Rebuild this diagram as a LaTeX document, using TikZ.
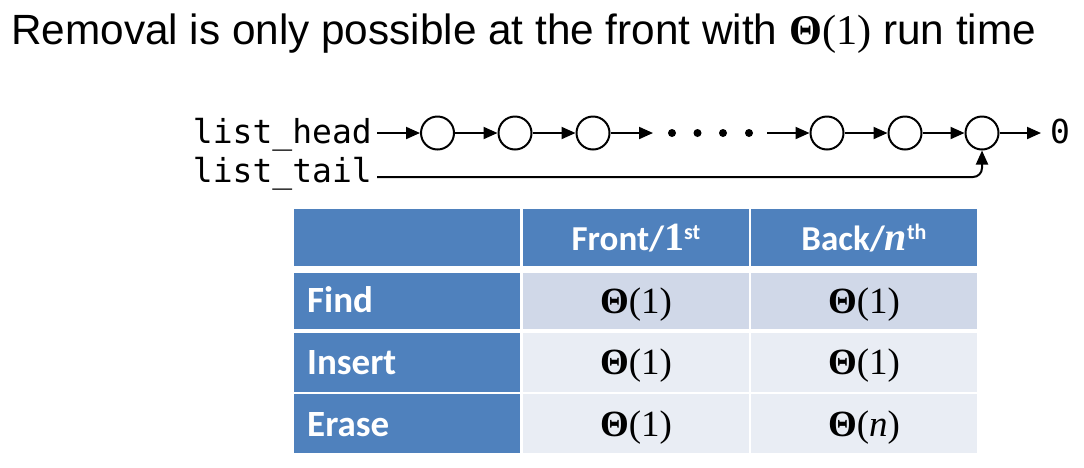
\documentclass[tikz,border=0pt]{standalone}
\usepackage{fontspec}
\setmainfont{Liberation Sans}
\newfontfamily\serifF{Liberation Serif}
\newfontfamily\calibF{Carlito}
\newfontfamily\monoF{DejaVu Sans Mono}
\usetikzlibrary{arrows.meta}
\definecolor{hblue}{HTML}{4F81BD}
\definecolor{rowA}{HTML}{D0D8E8}
\definecolor{rowB}{HTML}{E9EDF4}
\newcommand{\supx}[1]{\raisebox{11pt}{\fontsize{22}{22}\selectfont #1}}
\newcommand{\Thx}{{\bfseries Θ}}
\begin{document}
\begin{tikzpicture}[x=1pt,y=-1pt,
  lnk/.style={line width=2pt,-{Triangle[length=14pt,width=12pt]}},
  lnode/.style={circle,draw,line width=2pt,minimum size=33pt,inner sep=0pt},
  dotc/.style={circle,fill,minimum size=8pt,inner sep=0pt},
  monotext/.style={inner sep=0pt,font=\monoF\fontsize{33}{36}\selectfont},
  cell/.style={draw=none,minimum width=226pt,inner sep=0pt},
  hdrcell/.style={cell,fill=hblue,minimum height=57pt},
  labcell/.style={cell,fill=hblue},
  datA/.style={cell,fill=rowA},
  datB/.style={cell,fill=rowB},
  hdrtext/.style={inner sep=0pt,anchor=base,text=white,font=\calibF\bfseries\fontsize{35}{38}\selectfont},
  labtext/.style={inner sep=0pt,anchor=base west,text=white,font=\calibF\bfseries\fontsize{37}{40}\selectfont},
  dattext/.style={inner sep=0pt,anchor=base,font=\serifF\fontsize{37}{40}\selectfont},
]
\fill[white] (0,0) rectangle (1084,467);
\useasboundingbox (0,0) rectangle (1084,467);

% title
\node[inner sep=0pt,anchor=base west,font=\fontsize{42.3}{48}\selectfont] (title) at (11,44)
  {Removal is only possible at the front with {\serifF\Thx(1)} run time};

% list
\node[monotext,anchor=base east] (lhead) at (372,143) {list\_head};
\node[monotext,anchor=base east] (ltail) at (372,182) {list\_tail};
\node[lnode] (c1) at (437.5,133) {};
\node[lnode] (c2) at (515,133) {};
\node[lnode] (c3) at (593,133) {};
\node[dotc] (d1) at (672,133) {};
\node[dotc] (d2) at (697.5,133) {};
\node[dotc] (d3) at (723,133) {};
\node[dotc] (d4) at (749,133) {};
\node[lnode] (c4) at (827,133) {};
\node[lnode] (c5) at (905,133) {};
\node[lnode] (c6) at (982,133) {};
\node[monotext,anchor=base] (z) at (1060,143) {0};
\coordinate (hs) at (377,133);
\coordinate (dA) at (653,133);
\coordinate (dB) at (767,133);
\coordinate (zt) at (1041,133);
\coordinate (ts) at (377,177);

\draw[lnk] (hs) -- (c1);
\draw[lnk] (c1) -- (c2);
\draw[lnk] (c2) -- (c3);
\draw[lnk] (c3) -- (dA);
\draw[lnk] (dB) -- (c4);
\draw[lnk] (c4) -- (c5);
\draw[lnk] (c5) -- (c6);
\draw[lnk] (c6) -- (zt);
\draw[lnk,rounded corners=9pt] (ts) -| (c6.south);

% table
\node[hdrcell] (h1) at (407,237.5) {};
\node[hdrcell] (h2) at (636,237.5) {};
\node[hdrcell] (h3) at (864,237.5) {};
\node[labcell,minimum height=56.5pt] (l1) at (407,301) {};
\node[datA,minimum height=56.5pt] (a1) at (636,301) {};
\node[datA,minimum height=56.5pt] (b1) at (864,301) {};
\node[labcell,minimum height=59pt] (l2) at (407,362) {};
\node[datB,minimum height=59pt] (a2) at (636,362) {};
\node[datB,minimum height=59pt] (b2) at (864,362) {};
\node[labcell,minimum height=59pt] (l3) at (407,423.5) {};
\node[datB,minimum height=59pt] (a3) at (636,423.5) {};
\node[datB,minimum height=59pt] (b3) at (864,423.5) {};

\node[hdrtext] (th2) at (636,250.5) {Front/{\serifF\fontsize{40}{40}\selectfont 1}\supx{st}};
\node[hdrtext] (th3) at (864,250.5) {Back/{\serifF\bfseries\itshape\fontsize{40}{40}\selectfont n}\supx{th}};
\node[labtext] (tl1) at (307,312) {Find};
\node[labtext] (tl2) at (307,374) {Insert};
\node[labtext] (tl3) at (307,436) {Erase};
\node[dattext] (ta1) at (636,313) {\Thx(1)};
\node[dattext] (tb1) at (864,313) {\Thx(1)};
\node[dattext] (ta2) at (636,374.5) {\Thx(1)};
\node[dattext] (tb2) at (864,374.5) {\Thx(1)};
\node[dattext] (ta3) at (636,436) {\Thx(1)};
\node[dattext] (tb3) at (864,436) {\Thx(\textit{n})};
\end{tikzpicture}
\end{document}
